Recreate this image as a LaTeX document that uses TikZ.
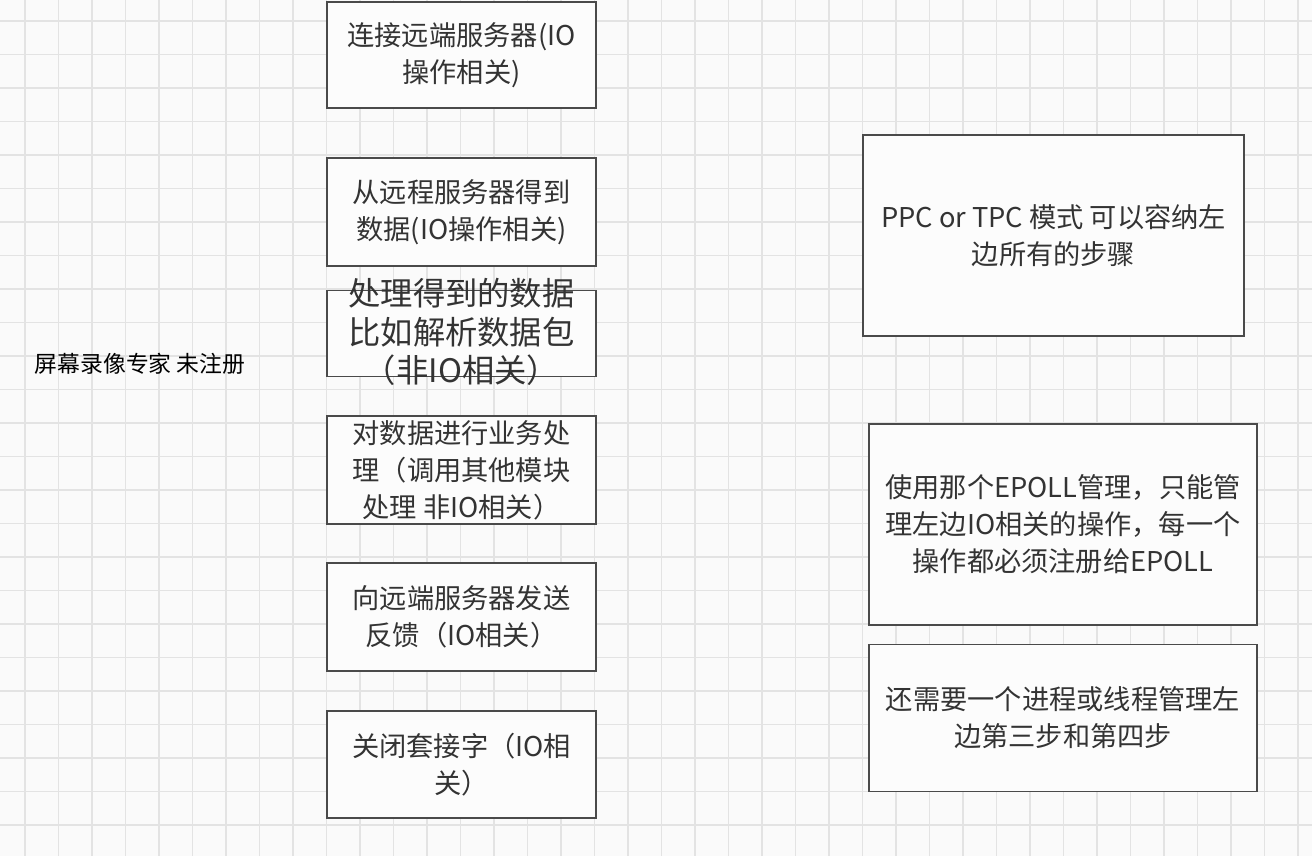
\documentclass[tikz,border=0pt]{standalone}
\usepackage{fontspec}
\usepackage{tikz}
\usetikzlibrary{positioning}
\newfontfamily\cjk{Noto Sans CJK SC}
\definecolor{paperCol}{HTML}{FAFAFA}
\definecolor{gridCol}{HTML}{E3E3E3}
\definecolor{edgeCol}{HTML}{4A4A4A}
\definecolor{boxCol}{HTML}{FCFCFC}
\definecolor{txtCol}{HTML}{333333}
\tikzset{
  gridln/.style={gridCol, line width=0.7pt},
  stepbox/.style={draw=edgeCol, fill=boxCol, line width=1pt, minimum width=5.38cm,
                  minimum height=2.16cm, inner sep=0pt, text=txtCol, align=center,
                  font=\cjk\fontsize{15.5}{21}\selectfont},          % left column step
  notebox/.style={stepbox, minimum width=7.76cm, minimum height=4.02cm}, % right column remark
  bigtxt/.style={inner sep=0pt, text=txtCol, align=center, font=\cjk\fontsize{18.4}{21.8}\selectfont},
  wmark/.style={inner sep=0pt, text=black, font=\cjk\fontsize{13}{15}\selectfont},
}

\begin{document}
\begin{tikzpicture}[x=0.02cm, y=-0.02cm]
  \def\cx{461.5}\def\rx{1063}
  \useasboundingbox[fill=paperCol] (0,0) rectangle (1312,856);
  \foreach \k in {0,...,38}{\draw[gridln] ({25+33.5*\k},0) -- ({25+33.5*\k},856);}
  \foreach \k in {0,...,24}{\draw[gridln] (0,{21+33.5*\k}) -- (1312,{21+33.5*\k});}

  \node[wmark] (wm) at (140,364) {屏幕录像专家 未注册};

  \node[stepbox, minimum height=2.12cm] (s1) at (\cx,55) {连接远端服务器(IO\\操作相关)};
  \node[stepbox] (s2) at (\cx,212) {从远程服务器得到\\数据(IO操作相关)};
  \node[stepbox, minimum height=1.72cm] (s3) at (\cx,333.5) {};
  \node[bigtxt] (s3t) at (\cx,332) {处理得到的数据\\比如解析数据包\\（非IO相关）};
  \node[stepbox] (s4) at (\cx,470) {对数据进行业务处\\理（调用其他模块\\处理 非IO相关）};
  \node[stepbox] (s5) at (\cx,617) {向远端服务器发送\\反馈（IO相关）};
  \node[stepbox, minimum height=2.14cm] (s6) at (\cx,764.5) {关闭套接字（IO相\\关）};

  \node[notebox, minimum width=7.62cm] (r1) at (1053.5,235.5) {PPC or TPC 模式 可以容纳左\\边所有的步骤};
  \node[notebox] (r2) at (\rx,524.5) {使用那个EPOLL管理，只能管\\理左边IO相关的操作，每一个\\操作都必须注册给EPOLL};
  \node[notebox, minimum height=2.94cm] (r3) at (\rx,718) {还需要一个进程或线程管理左\\边第三步和第四步};
\end{tikzpicture}
\end{document}
